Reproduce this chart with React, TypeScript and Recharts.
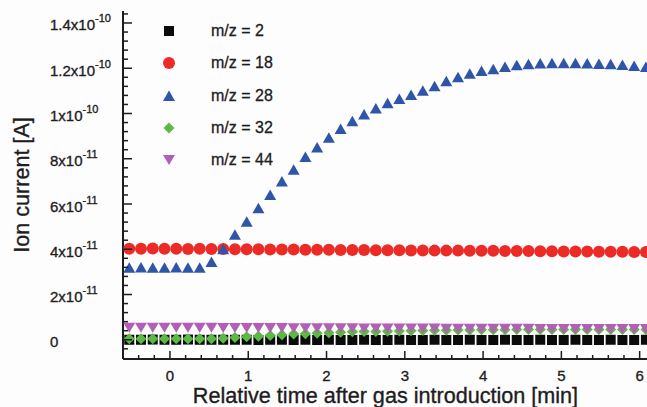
import React from "react";
import { ScatterChart, Scatter, XAxis, YAxis, Legend } from "recharts";

// time after gas introduction [min], one reading every ~9 s
const TIME = [
  -0.52, -0.37, -0.22, -0.07, 0.08, 0.23, 0.38, 0.53, 0.68, 0.83,
  0.98, 1.13, 1.28, 1.43, 1.58, 1.73, 1.88, 2.03, 2.18, 2.33,
  2.48, 2.63, 2.78, 2.93, 3.08, 3.23, 3.38, 3.53, 3.68, 3.83,
  3.98, 4.13, 4.28, 4.43, 4.58, 4.73, 4.88, 5.03, 5.18, 5.33,
  5.48, 5.63, 5.78, 5.93, 6.08,
];

// ion currents, in units of 1e-11 A
const MZ2 = [
  0.0, 0.0, 0.01, 0.0, 0.0, 0.01, 0.0, 0.0, 0.0, 0.0,
  0.0, -0.01, 0.0, 0.0, -0.01, 0.0, -0.01, 0.0, -0.01, -0.01,
  0.0, -0.01, -0.01, 0.0, -0.01, -0.01, 0.0, -0.01, -0.01, 0.0,
  -0.01, -0.01, 0.0, -0.01, -0.01, 0.0, -0.01, -0.01, 0.0, -0.01,
  -0.01, 0.0, -0.01, -0.01, 0.0,
];
const MZ18 = [
  4.02, 4.02, 4.03, 4.02, 4.02, 4.01, 4.02, 4.01, 4.01, 4.0,
  4.0, 4.0, 3.99, 3.99, 3.99, 3.98, 3.98, 3.98, 3.97, 3.97,
  3.97, 3.96, 3.96, 3.96, 3.95, 3.95, 3.94, 3.94, 3.94, 3.93,
  3.93, 3.93, 3.92, 3.92, 3.92, 3.91, 3.91, 3.9, 3.9, 3.9,
  3.89, 3.89, 3.89, 3.88, 3.88,
];
const MZ28 = [
  3.18, 3.19, 3.18, 3.18, 3.19, 3.18, 3.18, 3.44, 4.0, 4.64,
  5.22, 5.81, 6.4, 6.99, 7.51, 8.08, 8.5, 8.93, 9.32, 9.66,
  9.96, 10.22, 10.45, 10.64, 10.82, 11.0, 11.2, 11.42, 11.6, 11.76,
  11.88, 11.96, 12.06, 12.13, 12.18, 12.21, 12.22, 12.22, 12.22, 12.21,
  12.19, 12.18, 12.14, 12.1, 12.06,
];
const MZ32 = [
  0.04, 0.04, 0.04, 0.04, 0.04, 0.04, 0.04, 0.05, 0.07, 0.1,
  0.13, 0.16, 0.19, 0.22, 0.25, 0.27, 0.29, 0.31, 0.33, 0.35,
  0.36, 0.37, 0.38, 0.39, 0.4, 0.41, 0.42, 0.42, 0.43, 0.43,
  0.44, 0.44, 0.44, 0.45, 0.45, 0.45, 0.45, 0.45, 0.45, 0.45,
  0.45, 0.45, 0.45, 0.45, 0.45,
];
const MZ44 = [
  0.53, 0.53, 0.53, 0.53, 0.53, 0.53, 0.53, 0.53, 0.52, 0.52,
  0.52, 0.52, 0.52, 0.52, 0.51, 0.51, 0.51, 0.51, 0.51, 0.51,
  0.5, 0.5, 0.5, 0.5, 0.5, 0.5, 0.5, 0.49, 0.49, 0.49,
  0.49, 0.49, 0.49, 0.49, 0.49, 0.48, 0.48, 0.48, 0.48, 0.48,
  0.48, 0.48, 0.48, 0.48, 0.48,
];

const X_TICKS = [
  -0.4, -0.2, 0, 0.2, 0.4, 0.6, 0.8, 1, 1.2, 1.4, 1.6, 1.8, 2, 2.2, 2.4, 2.6,
  2.8, 3, 3.2, 3.4, 3.6, 3.8, 4, 4.2, 4.4, 4.6, 4.8, 5, 5.2, 5.4, 5.6, 5.8, 6, 6.2,
];
const Y_TICKS = [
  -0.4, 0, 0.4, 0.8, 1.2, 1.6, 2, 2.4, 2.8, 3.2, 3.6, 4, 4.4, 4.8, 5.2, 5.6, 6,
  6.4, 6.8, 7.2, 7.6, 8, 8.4, 8.8, 9.2, 9.6, 10, 10.4, 10.8, 11.2, 11.6, 12,
  12.4, 12.8, 13.2, 13.6, 14, 14.4,
];
const Y_LABELS: Record<number, [string, string | null]> = {
  0: ["0", null],
  2: ["2x10", "-11"],
  4: ["4x10", "-11"],
  6: ["6x10", "-11"],
  8: ["8x10", "-11"],
  10: ["1x10", "-10"],
  12: ["1.2x10", "-10"],
  14: ["1.4x10", "-10"],
};

const FONT = "'Liberation Sans', Arial, Helvetica, sans-serif";
const INK = "#1e1c1d";
// helvetica in the original prints a bit heavier than Liberation
const HEAVY = { stroke: INK, strokeWidth: 0.35 };

type Marker = (cx: number, cy: number, fill: string) => React.ReactElement;

const square: Marker = (cx, cy, fill) => (
  <rect x={cx - 5} y={cy - 5} width={10} height={10} fill={fill} />
);
const circle: Marker = (cx, cy, fill) => <circle cx={cx} cy={cy} r={6} fill={fill} />;
const triUp: Marker = (cx, cy, fill) => (
  <polygon points={`${cx},${cy - 5.5} ${cx + 6},${cy + 5} ${cx - 6},${cy + 5}`} fill={fill} />
);
const diamond: Marker = (cx, cy, fill) => (
  <polygon
    points={`${cx},${cy - 5.5} ${cx + 5.5},${cy} ${cx},${cy + 5.5} ${cx - 5.5},${cy}`}
    fill={fill}
  />
);
const triDown: Marker = (cx, cy, fill) => (
  <polygon points={`${cx - 6},${cy - 5} ${cx + 6},${cy - 5} ${cx},${cy + 5}`} fill={fill} />
);

const SERIES = [
  { name: "m/z = 2", values: MZ2, color: "#0b0b0b", marker: square },
  { name: "m/z = 18", values: MZ18, color: "#ec2a26", marker: circle },
  { name: "m/z = 28", values: MZ28, color: "#2f55a9", marker: triUp },
  { name: "m/z = 32", values: MZ32, color: "#5db944", marker: diamond },
  { name: "m/z = 44", values: MZ44, color: "#b160b5", marker: triDown },
];

const isMajor = (v: number, step: number) => Math.abs(v / step - Math.round(v / step)) < 1e-6;

function XTick(props: any) {
  const { x, y, payload } = props;
  const v = payload.value;
  const major = isMajor(v, 1);
  return (
    <g>
      <line x1={x} x2={x} y1={y} y2={y - (major ? 8 : 4)} stroke={INK} strokeWidth={1.5} />
      {major && (
        <text
          x={x}
          y={y + 22}
          textAnchor="middle"
          fontFamily={FONT}
          fontSize={15}
          fill={INK}
          {...HEAVY}
        >
          {Math.round(v)}
        </text>
      )}
    </g>
  );
}

function YTick(props: any) {
  const { x, y, payload } = props;
  const v = payload.value;
  const major = isMajor(v, 2);
  const lab = major ? Y_LABELS[Math.round(v)] : undefined;
  return (
    <g>
      <line x1={x} x2={x + (major ? 9 : 5)} y1={y} y2={y} stroke={INK} strokeWidth={1.5} />
      {lab && (
        <text
          x={x - 73}
          y={y + 7.5}
          textAnchor="start"
          fontFamily={FONT}
          fontSize={15}
          fill={INK}
          {...HEAVY}
        >
          <tspan>{lab[0]}</tspan>
          {lab[1] && (
            <tspan dy={-8} fontSize={11}>
              {lab[1]}
            </tspan>
          )}
        </text>
      )}
    </g>
  );
}

function renderLegend() {
  return (
    <div
      style={{
        fontFamily: FONT,
        fontSize: 16,
        color: INK,
        WebkitTextStroke: "0.3px " + INK,
      }}
    >
      {SERIES.map((s) => (
        <div key={s.name} style={{ display: "flex", alignItems: "center", height: 32.3 }}>
          <svg width={20} height={20} style={{ display: "block" }}>
            {s.marker(10, 10, s.color)}
          </svg>
          <span style={{ marginLeft: 32 }}>{s.name}</span>
        </div>
      ))}
    </div>
  );
}

export default function App() {
  const datasets = SERIES.map((s) => ({
    ...s,
    data: TIME.map((t, i) => ({ t, v: s.values[i] })),
  }));

  return (
    <div
      style={{
        position: "absolute",
        left: 0,
        top: 0,
        width: 647,
        height: 407,
        overflow: "hidden",
        background: "#fdfdfe",
      }}
    >
      <ScatterChart width={665} height={407} margin={{ top: 11, right: 5, bottom: 0, left: 0 }}>
        <XAxis
          xAxisId="top"
          orientation="top"
          type="number"
          dataKey="t"
          domain={[-0.6, 6.26]}
          height={0}
          tick={false}
          tickLine={false}
          axisLine={{ stroke: INK, strokeWidth: 2 }}
        />
        <XAxis
          type="number"
          dataKey="t"
          domain={[-0.6, 6.26]}
          ticks={X_TICKS}
          interval={0}
          height={48}
          tickSize={0}
          tickMargin={0}
          tickLine={false}
          tick={<XTick />}
          axisLine={{ stroke: INK, strokeWidth: 2 }}
          label={{
            value: "Relative time after gas introduction [min]",
            position: "insideBottom",
            offset: 4,
            dx: -6,
            style: { fontFamily: FONT, fontSize: 21.6, fill: INK, ...HEAVY },
          }}
        />
        <YAxis
          type="number"
          dataKey="v"
          domain={[-0.85, 14.53]}
          ticks={Y_TICKS}
          interval={0}
          width={123}
          tickSize={0}
          tickMargin={0}
          tickLine={false}
          tick={<YTick />}
          axisLine={{ stroke: INK, strokeWidth: 2 }}
          label={{
            content: (p: any) => {
              const vb = p.viewBox;
              const cx = vb.x + 28.5;
              const cy = vb.y + vb.height / 2;
              return (
                <text
                  x={cx}
                  y={cy}
                  transform={`rotate(-90, ${cx}, ${cy})`}
                  textAnchor="middle"
                  fontFamily={FONT}
                  fontSize={21.6}
                  fill={INK}
                  {...HEAVY}
                >
                  Ion current [A]
                </text>
              );
            },
          }}
        />
        <Legend
          layout="vertical"
          align="center"
          verticalAlign="middle"
          content={renderLegend}
          wrapperStyle={{ left: 159, top: 15, width: 140 }}
        />
        {datasets.map((s) => (
          <Scatter
            key={s.name}
            name={s.name}
            data={s.data}
            fill={s.color}
            isAnimationActive={false}
            shape={(p: any) => s.marker(p.cx, p.cy, s.color)}
          />
        ))}
      </ScatterChart>
    </div>
  );
}
